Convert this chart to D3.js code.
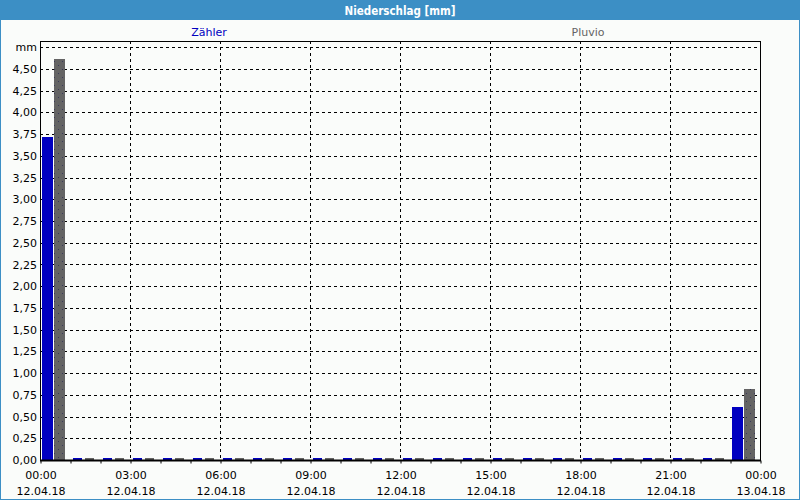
<!DOCTYPE html>
<html>
<head>
<meta charset="utf-8">
<script src="https://cdn.jsdelivr.net/npm/d3@7"></script>
<style>
  html, body { margin: 0; padding: 0; background: #fafcfa; }
  svg { display: block; }
  text { font-family: "DejaVu Sans", Verdana, sans-serif; }
</style>
</head>
<body>
<svg id="chart" width="800" height="500"></svg>
<script>
// ---- data ----
const chartTitle = "Niederschlag [mm]";
const seriesNames = ["Zähler", "Pluvio"];
const seriesColors = ["#0000c0", "#646464"];
// hourly bins starting 12.04.18 00:00
const hours = d3.range(24);
const zaehler = [3.72, 0, 0, 0, 0, 0, 0, 0, 0, 0, 0, 0, 0, 0, 0, 0, 0, 0, 0, 0, 0, 0, 0, 0.61];
const pluvio  = [4.61, 0, 0, 0, 0, 0, 0, 0, 0, 0, 0, 0, 0, 0, 0, 0, 0, 0, 0, 0, 0, 0, 0, 0.82];
const yTicks = [0, 0.25, 0.5, 0.75, 1, 1.25, 1.5, 1.75, 2, 2.25, 2.5, 2.75, 3, 3.25, 3.5, 3.75, 4, 4.25, 4.5];
const yMax = 4.75;
const yUnit = "mm";
const xTickHours = [0, 3, 6, 9, 12, 15, 18, 21, 24];
const xTimeLabels = ["00:00", "03:00", "06:00", "09:00", "12:00", "15:00", "18:00", "21:00", "00:00"];
const xDateLabels = ["12.04.18", "12.04.18", "12.04.18", "12.04.18", "12.04.18", "12.04.18", "12.04.18", "12.04.18", "13.04.18"];

// ---- layout ----
const W = 800, H = 500;
const plot = { left: 40, right: 760, top: 41, bottom: 460 };
const svg = d3.select("#chart");

const x = d3.scaleLinear().domain([0, 24]).range([plot.left, plot.right]);
const y = d3.scaleLinear().domain([0, yMax]).range([plot.bottom, plot.bottom - 4.75 * 86.9]);

// background + border
svg.append("rect").attr("x", 0.5).attr("y", 0.5).attr("width", W - 1).attr("height", H - 1)
  .attr("fill", "#fafcfa").attr("stroke", "#3c8fc5").attr("stroke-width", 1);
// title bar
svg.append("rect").attr("x", 0).attr("y", 0).attr("width", W).attr("height", 20).attr("fill", "#3c8fc5");
svg.append("text").attr("x", W / 2).attr("y", 14.5).attr("text-anchor", "middle")
  .attr("fill", "#ffffff").attr("font-weight", "bold").attr("font-size", "11.5px")
  .style("font-family", "'DejaVu Sans Condensed', 'DejaVu Sans', sans-serif")
  .text(chartTitle);

// legend
const legendX = [209, 588];
seriesNames.forEach((n, i) => {
  svg.append("text").attr("x", legendX[i]).attr("y", 36).attr("text-anchor", "middle")
    .attr("fill", seriesColors[i]).attr("font-size", "11px").text(n);
});

// pattern for gray bars
const defs = svg.append("defs");
const pat = defs.append("pattern").attr("id", "dots").attr("patternUnits", "userSpaceOnUse")
  .attr("width", 8).attr("height", 8).attr("x", 0).attr("y", 0);
pat.append("rect").attr("width", 8).attr("height", 8).attr("fill", seriesColors[1]);
pat.append("rect").attr("x", 2).attr("y", 1).attr("width", 1).attr("height", 1).attr("fill", "#3a3a5a");
pat.append("rect").attr("x", 6).attr("y", 5).attr("width", 1).attr("height", 1).attr("fill", "#3a3a5a");

// horizontal gridlines (dashed), including top "mm" line
const gridG = svg.append("g");
gridG.selectAll("line.h").data(yTicks.filter(v => v > 0).concat([yMax])).enter().append("line")
  .attr("x1", plot.left).attr("x2", plot.right)
  .attr("y1", d => Math.round(y(d)) + 0.5).attr("y2", d => Math.round(y(d)) + 0.5)
  .attr("stroke", "#000").attr("stroke-dasharray", "3,3").attr("stroke-width", 1);
// vertical gridlines
gridG.selectAll("line.v").data(xTickHours.filter(h => h > 0 && h < 24)).enter().append("line")
  .attr("x1", d => x(d) + 0.5).attr("x2", d => x(d) + 0.5)
  .attr("y1", plot.top).attr("y2", plot.bottom)
  .attr("stroke", "#000").attr("stroke-dasharray", "3,3").attr("stroke-width", 1);

// bars
const barW = 11;
function drawSeries(vals, offset, fill) {
  svg.append("g").selectAll("rect").data(hours).enter().append("rect")
    .attr("x", h => x(h) + offset + (vals[h] > 0 ? 0 : 1))
    .attr("width", h => vals[h] > 0 ? barW : barW - 2)
    .attr("y", h => vals[h] > 0 ? Math.round(y(vals[h])) : plot.bottom - 2)
    .attr("height", h => vals[h] > 0 ? plot.bottom - Math.round(y(vals[h])) : 2)
    .attr("fill", fill);
}
drawSeries(zaehler, 2, seriesColors[0]);
drawSeries(pluvio, 14, "url(#dots)");

// frame
svg.append("line").attr("x1", plot.left + 0.5).attr("x2", plot.left + 0.5).attr("y1", plot.top).attr("y2", plot.bottom + 1)
  .attr("stroke", "#000");
svg.append("line").attr("x1", plot.right + 0.5).attr("x2", plot.right + 0.5).attr("y1", plot.top).attr("y2", plot.bottom + 1)
  .attr("stroke", "#000");
svg.append("line").attr("x1", plot.left).attr("x2", plot.right + 1).attr("y1", plot.top + 0.5).attr("y2", plot.top + 0.5)
  .attr("stroke", "#000");

// x axis
const xAxis = d3.axisBottom(x).tickValues(d3.range(0, 25)).tickSize(3).tickFormat("");
const xg = svg.append("g").attr("transform", `translate(0.5,${plot.bottom + 0.5})`).call(xAxis);
xg.select(".domain").attr("stroke", "#000").attr("stroke-width", 2).attr("d", `M${plot.left - 0.5},0H${plot.right + 0.5}`);
xg.selectAll(".tick line").attr("stroke", "#000");

const xl = svg.append("g");
xTickHours.forEach((h, i) => {
  xl.append("text").attr("x", x(h) + 1).attr("y", 479).attr("text-anchor", "middle")
    .attr("font-size", "11px").attr("fill", "#000").text(xTimeLabels[i]);
  xl.append("text").attr("x", x(h) + 1).attr("y", 495).attr("text-anchor", "middle")
    .attr("font-size", "11px").attr("fill", "#000").text(xDateLabels[i]);
});

// y axis labels
const yAxis = d3.axisLeft(y).tickValues(yTicks).tickSize(0).tickPadding(3)
  .tickFormat(d => d3.format(".2f")(d).replace(".", ","));
const yg = svg.append("g").attr("transform", `translate(${plot.left},0)`).call(yAxis);
yg.select(".domain").remove();
yg.selectAll("text").attr("font-size", "11px").attr("fill", "#000")
  .style("font-family", "'DejaVu Sans', sans-serif");
svg.append("text").attr("x", plot.left - 3).attr("y", y(yMax) + 4).attr("text-anchor", "end")
  .attr("font-size", "11px").attr("fill", "#000").text(yUnit);
</script>
</body>
</html>
